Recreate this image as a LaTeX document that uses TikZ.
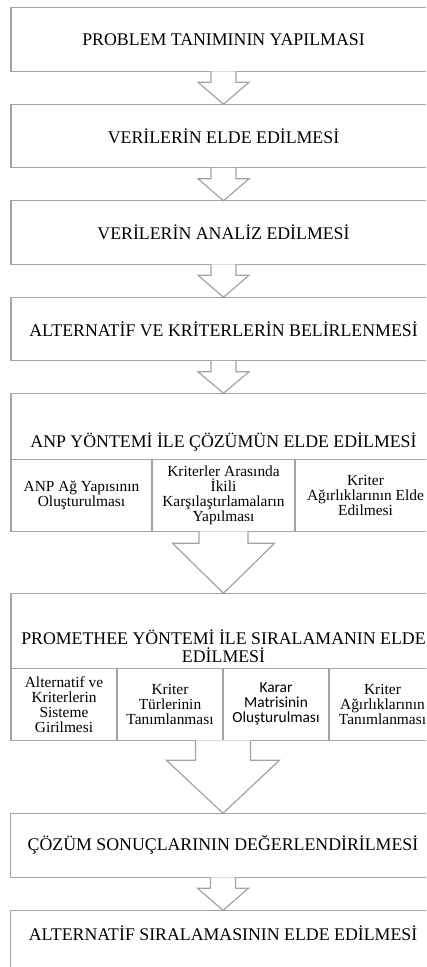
\documentclass[tikz,border=0pt]{standalone}
\usepackage{fontspec}
\setmainfont{Liberation Serif}
\newfontfamily\calibrifont{Carlito}
\usetikzlibrary{positioning}
\definecolor{framegray}{HTML}{A3A3A3}
\newcommand{\titlesize}{\fontsize{17.8}{18.6}\selectfont}
\newcommand{\cellsize}{\fontsize{15.4}{15}\selectfont}
\newcommand{\flowarrow}[5]{%
  \draw[arrowline] ([xshift=-#3]#1) -- ([xshift=-#3,yshift=-#5]#1) -- ([xshift=-#4,yshift=-#5]#1)
    -- (#2) -- ([xshift=#4,yshift=-#5]#1) -- ([xshift=#3,yshift=-#5]#1) -- ([xshift=#3]#1);}
\tikzset{
  stage/.style={draw=framegray, line width=1.2pt, minimum width=425pt, minimum height=63.5pt,
    inner sep=0pt, outer sep=0pt, font=\titlesize, align=center},
  cell/.style={draw=framegray, line width=1.2pt, minimum height=72pt,
    inner sep=0pt, outer sep=0pt, font=\cellsize, align=center},
  arrowline/.style={draw=framegray, line width=1.2pt, fill=white, line join=miter},
}

\begin{document}
\begin{tikzpicture}
  \useasboundingbox (0,0) rectangle (426pt,-967pt);
  \clip (0,0) rectangle (426pt,-967pt);

  \node[stage] (b1) at (223.5pt,-39.5pt) {PROBLEM TANIMININ YAPILMASI};
  \node[stage, below=33pt of b1] (b2) {VERİLERİN ELDE EDİLMESİ};
  \node[stage, below=33pt of b2] (b3) {VERİLERİN ANALİZ EDİLMESİ};
  \node[stage, below=33pt of b3] (b4) {ALTERNATİF VE KRİTERLERİN BELİRLENMESİ};

  \node[stage, minimum height=66pt, below=32.5pt of b4] (h5) {};
  \node[font=\titlesize] (t5) at ([yshift=17pt]h5.south) {ANP YÖNTEMİ İLE ÇÖZÜMÜN ELDE EDİLMESİ};
  \node[cell, minimum width=141pt, anchor=north west] (c51) at (h5.south west) {ANP Ağ Yapısının\\Oluşturulması};
  \node[cell, minimum width=143pt, right=0pt of c51] (c52) {Kriterler Arasında\\İkili\\Karşılaştırlamaların\\Yapılması};
  \node[cell, minimum width=141pt, right=0pt of c52] (c53) {Kriter\\Ağırlıklarının Elde\\Edilmesi};

  \node[stage, minimum height=75pt, below=62pt of c52] (h6) {};
  \node[font=\titlesize, align=center] (t6) at ([yshift=22pt]h6.south) {PROMETHEE YÖNTEMİ İLE SIRALAMANIN ELDE\\EDİLMESİ};
  \node[cell, minimum width=106pt, anchor=north west] (c61) at (h6.south west) {Alternatif ve\\Kriterlerin\\Sisteme\\Girilmesi};
  \node[cell, minimum width=106pt, right=0pt of c61] (c62) {Kriter\\Türlerinin\\Tanımlanması};
  \node[cell, minimum width=106pt, right=0pt of c62, font=\cellsize\calibrifont] (c63) {Karar\\Matrisinin\\Oluşturulması};
  \node[cell, minimum width=107pt, right=0pt of c63] (c64) {Kriter\\Ağırlıklarının\\Tanımlanması};

  \node[stage, minimum height=64pt, below=73pt of c62.south east] (b7) {ÇÖZÜM SONUÇLARININ DEĞERLENDİRİLMESİ};
  \node[stage, minimum height=70pt, below=33pt of b7] (b8) {};
  \node[font=\titlesize] (t8) at ([yshift=-23pt]b8.north) {ALTERNATİF SIRALAMASININ ELDE EDİLMESİ};

  \flowarrow{b1.south}{b2.north}{12.5pt}{25.5pt}{11pt}
  \flowarrow{b2.south}{b3.north}{12.5pt}{25.5pt}{11pt}
  \flowarrow{b3.south}{b4.north}{12.5pt}{25.5pt}{11pt}
  \flowarrow{b4.south}{h5.north}{12.5pt}{25.5pt}{11pt}
  \flowarrow{c52.south}{h6.north}{24.5pt}{51pt}{12pt}
  \flowarrow{c62.south east}{b7.north}{27.5pt}{56.5pt}{20pt}
  \flowarrow{b7.south}{b8.north}{12.5pt}{25.5pt}{11pt}
\end{tikzpicture}
\end{document}
